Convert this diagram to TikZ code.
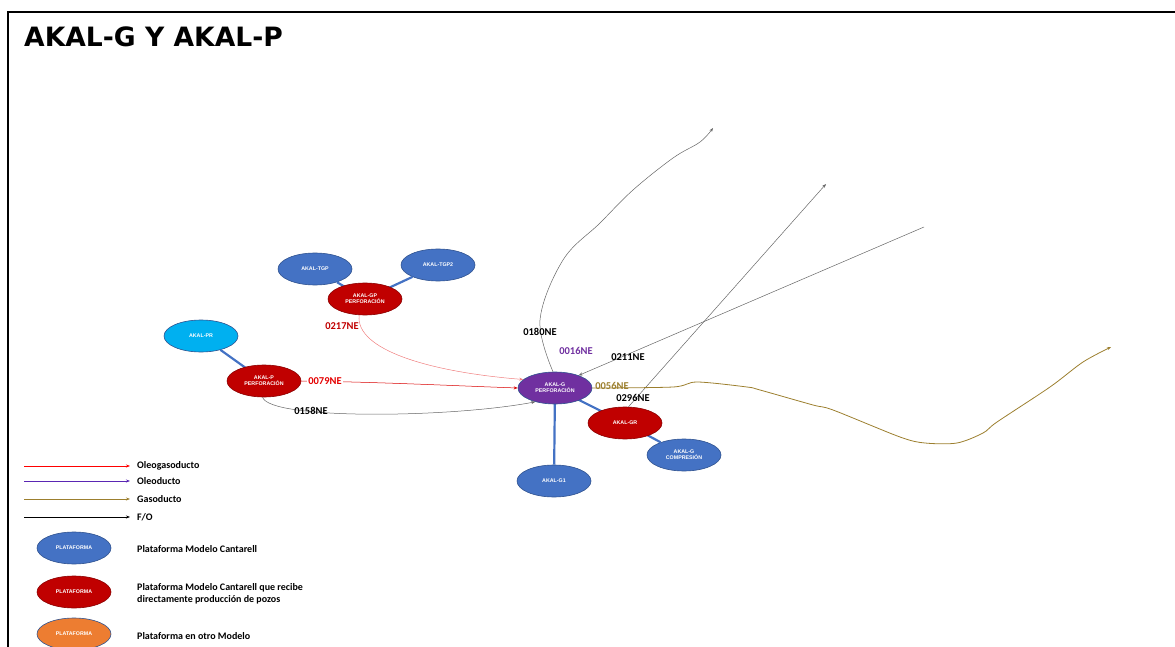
\documentclass[tikz,border=0pt]{standalone}
\usepackage{fontspec}
\setmainfont{Carlito}
\newfontfamily\titlefont{DejaVu Sans}
\newfontfamily\nodefont{Liberation Sans}
\usetikzlibrary{shapes.geometric,arrows.meta}
\definecolor{pblue}{HTML}{4472C4}
\definecolor{pblueb}{HTML}{2F528F}
\definecolor{pred}{HTML}{C00000}
\definecolor{predb}{HTML}{8B0000}
\definecolor{pcyan}{HTML}{00B0F0}
\definecolor{ppurple}{HTML}{7030A0}
\definecolor{porange}{HTML}{ED7D31}
\definecolor{pgold}{HTML}{9C7F2E}
\definecolor{ppink}{HTML}{F08080}
\tikzset{
  plat/.style={ellipse, minimum width=74pt, minimum height=32pt, inner sep=0pt,
    draw=pblueb, line width=0.6pt, text=white, align=center,
    font=\nodefont\bfseries\fontsize{5.3}{6.3}\selectfont},
  bplat/.style={plat, fill=pblue},
  rplat/.style={plat, fill=pred, draw=predb},
  cplat/.style={plat, fill=pcyan, draw=pblueb},
  pplat/.style={plat, fill=ppurple, draw=pblueb},
  oplat/.style={plat, fill=porange, draw=pblueb},
  link/.style={draw=pblue, line width=2.2pt},
  lbl/.style={font=\bfseries\fontsize{10.5}{12}\selectfont, inner sep=0pt},
  leg/.style={font=\bfseries\fontsize{10}{12.5}\selectfont, inner sep=0pt, anchor=west, align=left},
  tip/.style={-{Stealth[length=4pt,width=3pt]}},
  fo/.style={tip, draw=black!60, line width=0.5pt},
}
\begin{document}
\begin{tikzpicture}[x=1pt,y=-1pt]
\useasboundingbox (0,0) rectangle (1175,647);
% frame
\draw[line width=1.6pt] (8,660) -- (8,12) -- (1180,12);
\node[anchor=base west, inner sep=0pt, font=\titlefont\bfseries\fontsize{26.6}{30}\selectfont] (title) at (24,47) {AKAL-G Y AKAL-P};

% platforms
\node[bplat] (tgp) at (315,269) {AKAL-TGP};
\node[bplat] (tgp2) at (438,265) {AKAL-TGP2};
\node[cplat] (pr) at (201,336) {AKAL-PR};
\node[bplat] (g1) at (554,481) {AKAL-G1};
\node[bplat] (gc) at (684,455) {AKAL-G\\COMPRESIÓN};

% blue links
\draw[link] (tgp) -- (365,299);
\draw[link] (tgp2) -- (365,299);
\draw[link] (pr) -- (264,381);
\draw[link] (555,388) -- (g1);
\draw[link] (555,388) -- (625,423);
\draw[link] (625,423) -- (gc);

\node[rplat] (gp) at (365,299) {AKAL-GP\\PERFORACIÓN};
\node[rplat] (p) at (264,381) {AKAL-P\\PERFORACIÓN};
\node[pplat] (g) at (555,388) {AKAL-G\\PERFORACIÓN};
\node[rplat] (gr) at (625,423) {AKAL-GR};

% coordinates for free ends
\coordinate (e180) at (713,128);
\coordinate (s211) at (924,227);
\coordinate (e296) at (826,184);
\coordinate (e056) at (1111,347);

% red lines
\draw[tip, draw=ppink, line width=0.5pt] (gp.250) .. controls (355,350) and (430,372) .. (g.165);
\draw[tip, draw=red!85!black, line width=0.5pt] (p.east) .. controls (380,382) and (460,386) .. (g.west);
% 0158NE
\draw[fo] (p.265) .. controls (270,420) and (450,418) .. (g.215);
% 0180NE
\draw[fo] plot[smooth, tension=0.6] coordinates {(g.97) (540,320) (563,260) (600,223) (633,190) (673,158) (700,142) (e180)};
% 0211NE
\draw[fo] (s211) -- (g.28);
% 0296NE
\draw[fo] (gr.78) -- (e296);
% 0056NE gas
\draw[tip, draw=pgold, line width=0.8pt] plot[smooth, tension=0.5] coordinates {(g.east) (673,387) (697,382) (747,387) (760,390) (813,405) (833,410) (900,437) (925,443) (957,443) (983,433) (997,422) (1050,387) (1083,362) (e056)};

% labels
\node[lbl, text=pred] (l217) at (342,326) {0217NE};
\node[lbl, text=red!90!black, fill=white, inner sep=1pt] (l079) at (325,381) {0079NE};
\node[lbl] (l158) at (311,411) {0158NE};
\node[lbl] (l180) at (540,332) {0180NE};
\node[lbl, text=ppurple] (l016) at (576,351) {0016NE};
\node[lbl] (l211) at (628,357) {0211NE};
\node[lbl, text=pgold] (l056) at (612,386) {0056NE};
\node[lbl] (l296) at (633,398) {0296NE};

% legend
\coordinate (a1) at (24,466); \coordinate (b1) at (130,466);
\coordinate (a2) at (24,481); \coordinate (b2) at (130,481);
\coordinate (a3) at (24,499); \coordinate (b3) at (130,499);
\coordinate (a4) at (24,517); \coordinate (b4) at (130,517);
\draw[tip, draw=red, line width=0.9pt] (a1) -- (b1);
\draw[tip, draw=ppurple!80!blue, line width=0.9pt] (a2) -- (b2);
\draw[tip, draw=pgold, line width=0.9pt] (a3) -- (b3);
\draw[tip, draw=black, line width=0.9pt] (a4) -- (b4);
\node[leg] (t1) at (137,466) {Oleogasoducto};
\node[leg] (t2) at (137,481) {Oleoducto};
\node[leg] (t3) at (137,499) {Gasoducto};
\node[leg] (t4) at (137,517) {F/O};
\node[bplat] (lp1) at (74,548) {PLATAFORMA};
\node[rplat] (lp2) at (74,592) {PLATAFORMA};
\node[oplat] (lp3) at (74,634) {PLATAFORMA};
\node[leg] (t5) at (137,549) {Plataforma Modelo Cantarell};
\node[leg] (t6) at (137,594) {Plataforma Modelo Cantarell que recibe\\directamente producción de pozos};
\node[leg] (t7) at (137,636) {Plataforma en otro Modelo};
\end{tikzpicture}
\end{document}
